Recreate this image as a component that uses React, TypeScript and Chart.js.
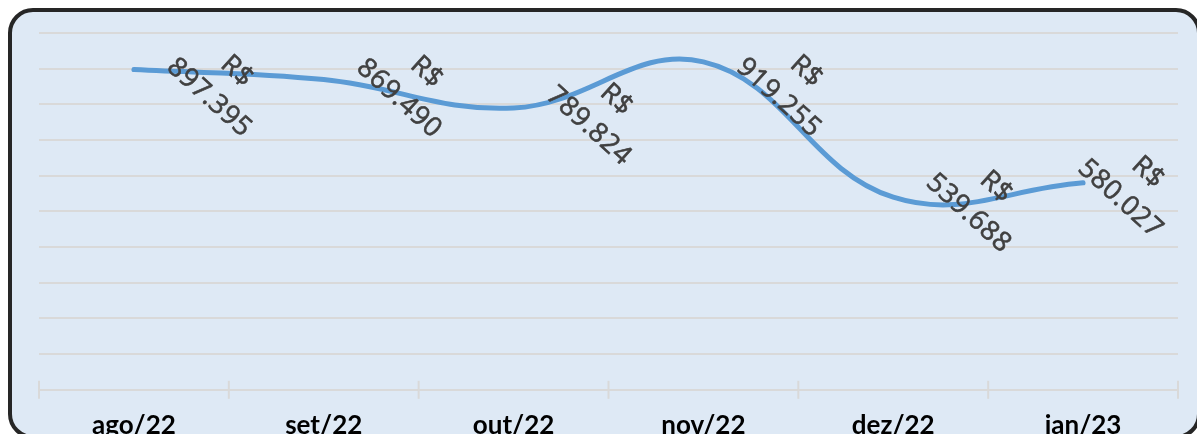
import React, { useEffect, useRef } from 'react';
import { Chart, registerables } from 'chart.js';

Chart.register(...registerables);

const CATEGORIES: string[] = ['ago/22', 'set/22', 'out/22', 'nov/22', 'dez/22', 'jan/23'];
const VALUES: number[] = [897395, 869490, 789824, 919255, 539688, 580027];
const Y_MIN = 0;
const Y_MAX = 1000000;
const Y_STEP = 100000;
const CURRENCY = 'R$';

const formatThousands = (v: number): string =>
  String(Math.round(v)).replace(/\B(?=(\d{3})+(?!\d))/g, '.');

const GRID_COLOR = '#d9d9d9';
const LINE_COLOR = '#5b9bd5';
const LABEL_COLOR = '#404040';

const tickMarksPlugin = {
  id: 'tickMarks',
  beforeDatasetsDraw(chart: any) {
    const x = chart.scales.x;
    const y = chart.scales.y;
    const ctx = chart.ctx;
    const n = chart.data.labels.length;
    const half = (x.getPixelForValue(1) - x.getPixelForValue(0)) / 2;
    const base = y.getPixelForValue(Y_MIN);
    ctx.save();
    ctx.strokeStyle = GRID_COLOR;
    ctx.lineWidth = 2;
    for (let i = 0; i <= n; i++) {
      const px = i < n ? x.getPixelForValue(i) - half : x.getPixelForValue(n - 1) + half;
      ctx.beginPath();
      ctx.moveTo(px, base - 9);
      ctx.lineTo(px, base + 9);
      ctx.stroke();
    }
    ctx.restore();
  },
};

const dataLabelsPlugin = {
  id: 'rotatedLabels',
  afterDatasetsDraw(chart: any, _args: any, opts: any) {
    const ctx = chart.ctx;
    const meta = chart.getDatasetMeta(0);
    const data = chart.data.datasets[0].data as number[];
    const right = chart.chartArea.right;
    const angle = (opts.angle * Math.PI) / 180;
    const nudges: number[] = opts.nudgeY || [];
    ctx.save();
    ctx.fillStyle = LABEL_COLOR;
    ctx.strokeStyle = LABEL_COLOR;
    ctx.lineWidth = opts.strokeWidth;
    ctx.lineJoin = 'round';
    ctx.font = opts.font;
    try {
      (ctx as any).letterSpacing = opts.letterSpacing;
    } catch (e) {
      /* ignore */
    }
    ctx.textAlign = 'center';
    ctx.textBaseline = 'middle';
    meta.data.forEach((pt: any, i: number) => {
      const dx = Math.min(opts.dx, right - pt.x - 45);
      const cx = pt.x + dx;
      const cy = pt.y + (nudges[i] ?? 4);
      const lines: [string, number, number][] = [
        [CURRENCY, 3, -opts.gap / 2],
        [formatThousands(data[i]), 0, opts.gap / 2],
      ];
      ctx.save();
      ctx.translate(cx, cy);
      ctx.rotate(angle);
      lines.forEach(([t, lx, ly]) => {
        ctx.fillText(t, lx, ly);
        ctx.strokeText(t, lx, ly);
      });
      ctx.restore();
    });
    ctx.restore();
  },
};

export default function App() {
  const canvasRef = useRef<HTMLCanvasElement | null>(null);

  useEffect(() => {
    if (!canvasRef.current) return;
    const chart = new Chart(canvasRef.current, {
      type: 'line',
      data: {
        labels: CATEGORIES,
        datasets: [
          {
            data: VALUES,
            borderColor: LINE_COLOR,
            borderWidth: 5,
            borderCapStyle: 'round',
            tension: 0.4,
            pointRadius: 0,
            pointHoverRadius: 0,
            fill: false,
          },
        ],
      },
      options: {
        animation: false,
        responsive: false,
        devicePixelRatio: 1,
        layout: { padding: { left: 39, right: 19, top: 33, bottom: 0 } },
        plugins: {
          legend: { display: false },
          tooltip: { enabled: false },
          title: { display: false },
          rotatedLabels: {
            angle: 42,
            dx: 88,
            gap: 38,
            nudgeY: [14, 5, 4, 22, 2, 2],
            font: '27px "Open Sans"',
            letterSpacing: '0.5px',
            strokeWidth: 0.6,
          },
        } as any,
        scales: {
          x: {
            type: 'category',
            offset: true,
            grid: { display: false, drawTicks: false },
            border: { display: false },
            ticks: {
              color: '#000000',
              font: { family: 'Lato', weight: 'bold', size: 26 },
              padding: 20,
              maxRotation: 0,
              autoSkip: false,
            },
          },
          y: {
            min: Y_MIN,
            max: Y_MAX,
            grid: { color: GRID_COLOR, lineWidth: 2, drawTicks: false },
            border: { display: false },
            ticks: { display: false, stepSize: Y_STEP },
          },
        },
      },
      plugins: [tickMarksPlugin, dataLabelsPlugin],
    });
    return () => chart.destroy();
  }, []);

  return (
    <>
      <div
        style={{
          position: 'fixed',
          left: 8,
          top: 8,
          width: 1193,
          height: 431,
          boxSizing: 'border-box',
          border: '4px solid #262626',
          borderRadius: 25,
          background: '#dee9f5',
        }}
      />
      <canvas
        ref={canvasRef}
        width={1197}
        height={461}
        style={{ position: 'fixed', left: 0, top: 0, width: 1197, height: 461 }}
      />
    </>
  );
}
